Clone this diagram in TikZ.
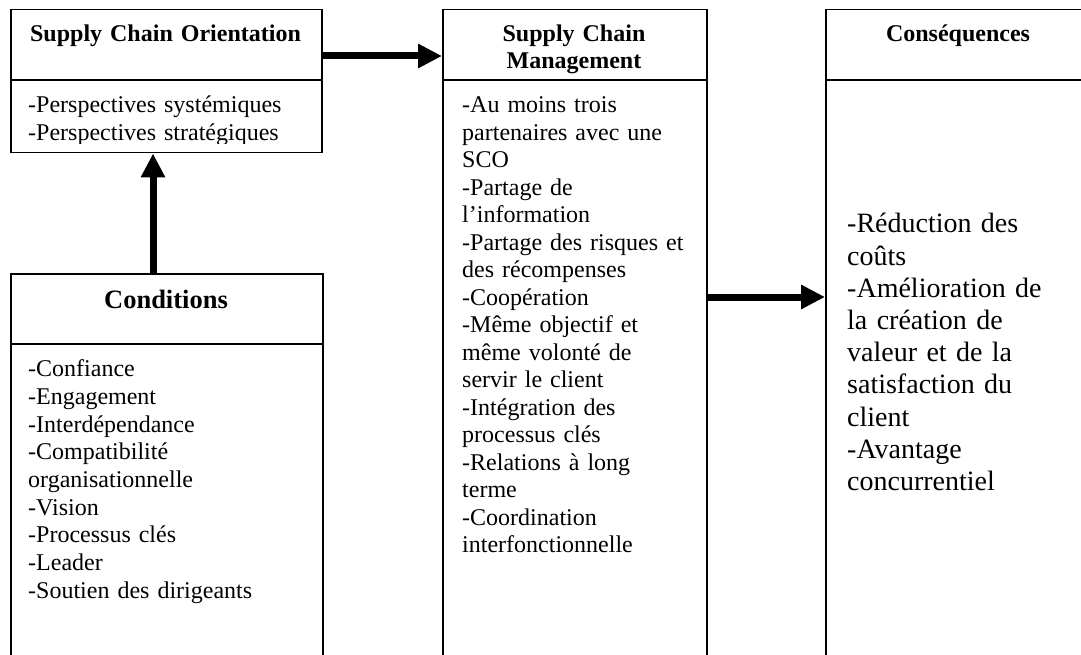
\documentclass[tikz,border=0pt]{standalone}
\usepackage{fontspec}
\setmainfont{Liberation Serif}
\usetikzlibrary{arrows.meta}

\begin{document}
\begin{tikzpicture}[x=1pt,y=-1pt,
  frame/.style={draw, line width=1.5pt, inner sep=0pt, anchor=north west},
  rule/.style={line width=1.5pt},
  flow/.style={line width=7pt, -{Triangle[length=24pt,width=23pt]}},
  head/.style={font=\bfseries\fontsize{24}{26.5}\selectfont, anchor=base,
               align=center, text width=300pt, inner sep=0pt},
  body/.style={font=\fontsize{24}{27.5}\selectfont, anchor=base west,
               align=left, text width=300pt, inner sep=0pt},
]
\useasboundingbox (0,0) rectangle (1081,655);
\clip (0,0) rectangle (1081,655);

% the four boxes (three of them run past the page edge)
\node[frame, minimum width=311pt, minimum height=143pt] (sco)  at (10,9) {};
\node[frame, minimum width=264pt, minimum height=700pt] (scm)  at (442,9) {};
\node[frame, minimum width=270pt, minimum height=700pt] (csq)  at (825,9) {};
\node[frame, minimum width=312pt, minimum height=450pt] (cond) at (10,273) {};

% header separators
\coordinate (r1) at (0,80);
\coordinate (r2) at (0,344);
\draw[rule] (sco.west |- r1) -- (sco.east |- r1);
\draw[rule] (scm.west |- r1) -- (scm.east |- r1);
\draw[rule] (csq.west |- r1) -- (csq.east |- r1);
\draw[rule] (cond.west |- r2) -- (cond.east |- r2);

% headers
\node[head] (scoT) at (165.5,42) {Supply Chain Orientation};
\node[head] (scmT) at (574,42) {Supply Chain\\Management};
\node[head] (csqT) at (958,42) {Conséquences};
\node[head, font=\bfseries\fontsize{26.5}{28}\selectfont] (condT) at (166,308) {Conditions};

% box contents
\begin{scope}
  \clip (10,80) rectangle (321,143.5);
  \node[body] (scoB) at (28,113) {-Perspectives systémiques\\-Perspectives stratégiques};
\end{scope}

\node[body] (scmB) at (462,113) {-Au moins trois\\partenaires avec une\\SCO\\-Partage de\\l’information\\-Partage des risques et\\des récompenses\\-Coopération\\-Même objectif et\\même volonté de\\servir le client\\-Intégration des\\processus clés\\-Relations à long\\terme\\-Coordination\\interfonctionnelle};

\node[body, font=\fontsize{24}{27.7}\selectfont] (condB) at (28,376.7) {-Confiance\\-Engagement\\-Interdépendance\\-Compatibilité\\organisationnelle\\-Vision\\-Processus clés\\-Leader\\-Soutien des dirigeants};

\node[body, font=\fontsize{28}{32.2}\selectfont] (csqB) at (847,233) {-Réduction des\\coûts\\-Amélioration de\\la création de\\valeur et de la\\satisfaction du\\client\\-Avantage\\concurrentiel};

% connectors
\coordinate (a1) at (0,56);
\coordinate (a2) at (153,0);
\coordinate (a3) at (0,297);
\draw[flow] (sco.east |- a1) -- (scm.west |- a1);
\draw[flow] (cond.north -| a2) -- (sco.south -| a2);
\draw[flow] (scm.east |- a3) -- (csq.west |- a3);
\end{tikzpicture}
\end{document}
